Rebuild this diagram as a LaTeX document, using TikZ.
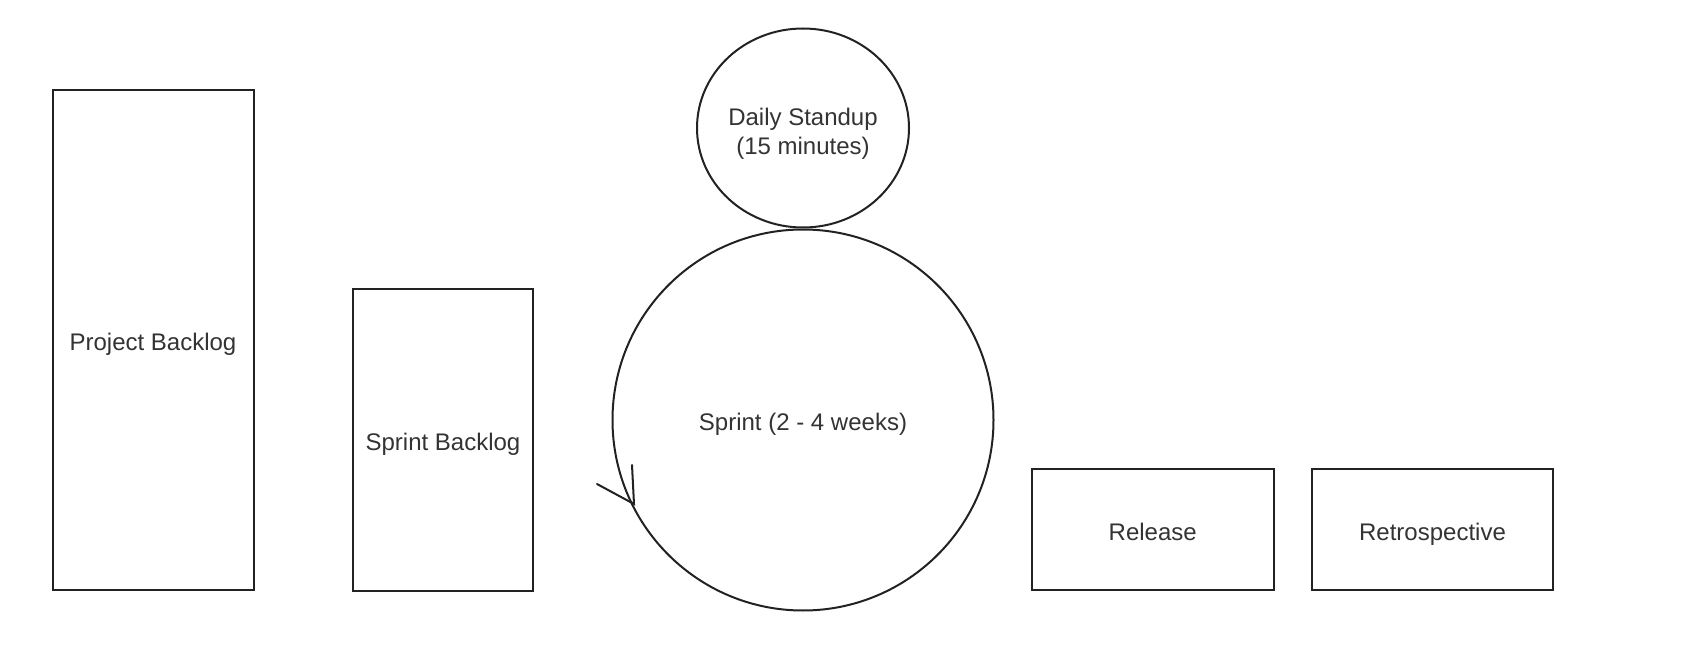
\documentclass[tikz,border=0pt]{standalone}
\usepackage{fontspec}
\setmainfont{Liberation Sans}
\definecolor{txt}{HTML}{333333}
\definecolor{ln}{HTML}{222222}
\begin{document}
\begin{tikzpicture}[x=0.5pt,y=-0.5pt,
  lbl/.style={text=txt,font=\fontsize{12}{14.5}\selectfont,align=center,text height=0.75em,text depth=0.21em},
  box/.style={draw=ln,line width=1pt,inner sep=0pt},
  wing/.style={draw=ln,line width=1pt,line cap=round}]
\useasboundingbox (0,0) rectangle (1688,668);
\node[box,minimum width=100.5pt,minimum height=250pt] (pb) at (153,340) {};
\node[lbl] (pbt) at (153,345.4) {Project Backlog};
\node[box,minimum width=90pt,minimum height=150.5pt] (sb) at (443,440) {};
\node[lbl] (sbt) at (443,445.4) {Sprint Backlog};
\draw[ln,line width=1pt] (803,128) ellipse [x radius=106, y radius=99.5];
\node[lbl] (ds) at (803,149) {Daily Standup\\(15 minutes)};
\draw[ln,line width=1pt] (803,420) circle [radius=190.5];
\node[lbl] (sp) at (803,425.5) {Sprint (2 - 4 weeks)};
\coordinate (tip) at (634,504);
\coordinate (w1) at (597,484);
\coordinate (w2) at (632,465);
\draw[wing] (w1) -- (tip) -- (w2);
\node[box,minimum width=120.75pt,minimum height=60.5pt] (rel) at (1152.75,529.5) {};
\node[lbl] (relt) at (1152.75,534.9) {Release};
\node[box,minimum width=120.5pt,minimum height=60.5pt] (ret) at (1432.5,529.5) {};
\node[lbl] (rett) at (1432.5,534.9) {Retrospective};
\end{tikzpicture}
\end{document}
